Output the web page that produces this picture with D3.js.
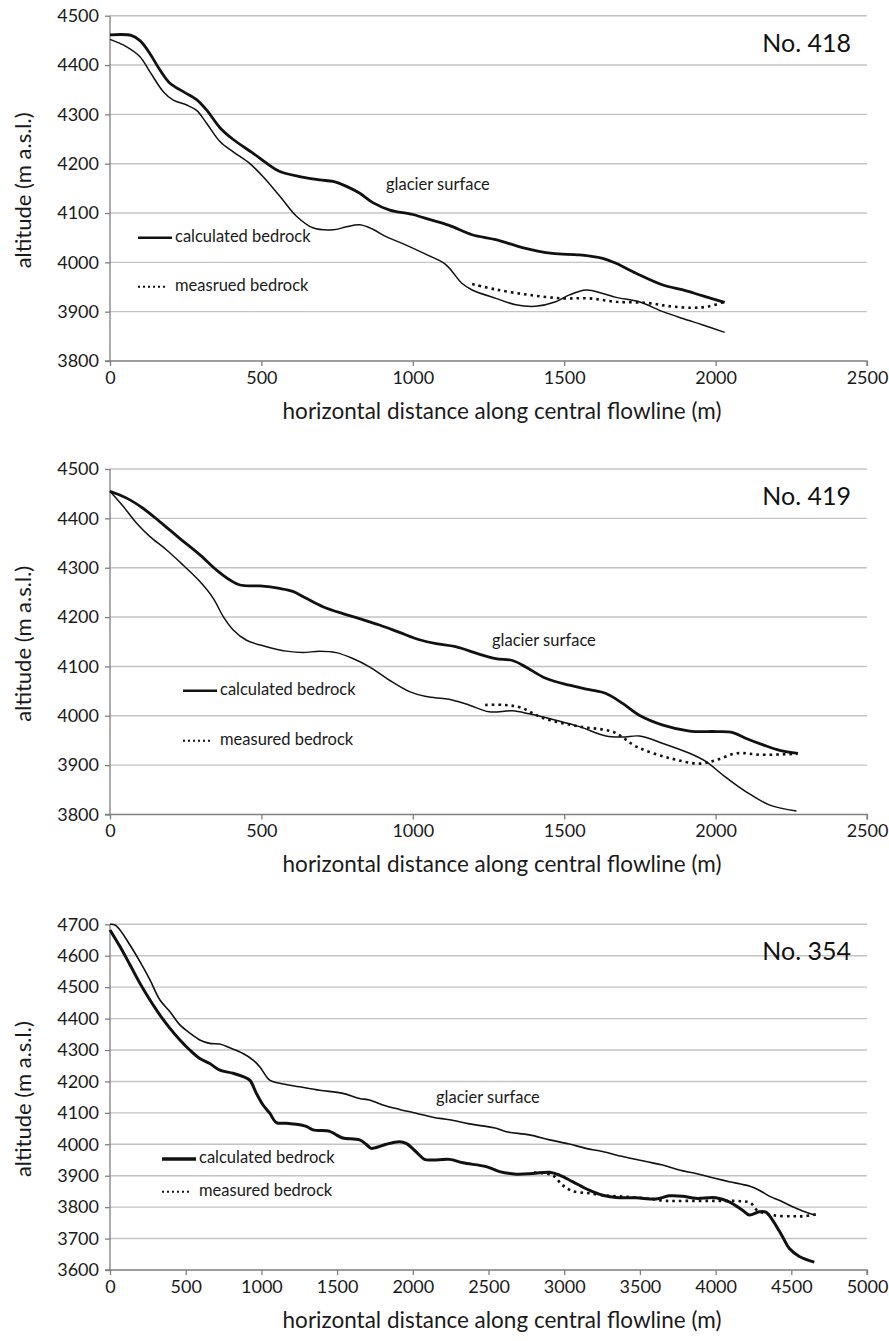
<!DOCTYPE html>
<html>
<head>
<meta charset="utf-8">
<script src="https://cdn.jsdelivr.net/npm/d3@7"></script>
<style>
  body { margin: 0; background: #fff; }
  svg { display: block; font-family: Lato, "Open Sans", sans-serif; }
</style>
</head>
<body>
<svg id="chart" width="889" height="1341"></svg>
<script>
"use strict";

// glacier No. 418 : [distance (m), altitude (m a.s.l.)]
const surface418 = [[0,4461],[70,4460],[100,4449],[132,4423],[165,4390],[198,4363],[242,4346],[286,4330],[320,4308],[363,4273],[407,4249],[473,4221],[517,4201],[561,4184],[626,4174],[692,4167],[737,4164],[781,4154],[825,4140],[868,4121],[924,4106],[1000,4097],[1060,4086],[1120,4075],[1196,4056],[1274,4046],[1362,4030],[1461,4018],[1550,4015],[1627,4008],[1671,3998],[1737,3978],[1826,3954],[1892,3944],[1958,3932],[2030,3919]];
const calcBed418 = [[0,4452],[55,4437],[99,4417],[132,4386],[176,4346],[209,4329],[253,4319],[286,4308],[319,4282],[363,4245],[407,4224],[462,4200],[505,4174],[561,4134],[615,4094],[670,4070],[737,4066],[781,4072],[825,4076],[868,4067],[912,4052],[978,4035],[1044,4016],[1108,3996],[1163,3957],[1196,3944],[1274,3927],[1340,3914],[1406,3911],[1472,3920],[1517,3934],[1572,3944],[1627,3937],[1671,3929],[1748,3920],[1826,3900],[1892,3886],[1958,3873],[2030,3858]];
const measBed418 = [[1196,3956],[1274,3945],[1384,3934],[1494,3927],[1583,3927],[1671,3920],[1770,3918],[1848,3911],[1925,3908],[1980,3911],[2030,3920]];

// glacier No. 419
const surface419 = [[0,4455],[55,4441],[110,4420],[165,4393],[231,4359],[297,4326],[352,4295],[396,4275],[429,4265],[495,4263],[560,4258],[604,4252],[648,4238],[703,4221],[769,4207],[824,4197],[890,4184],[956,4169],[1022,4154],[1077,4146],[1141,4140],[1219,4125],[1274,4116],[1329,4112],[1373,4099],[1439,4076],[1517,4062],[1583,4053],[1638,4045],[1693,4025],[1748,4001],[1826,3981],[1914,3969],[2002,3968],[2057,3966],[2101,3954],[2157,3941],[2212,3930],[2272,3924]];
const calcBed419 = [[0,4455],[44,4424],[88,4390],[132,4363],[187,4336],[242,4305],[297,4272],[341,4238],[374,4201],[407,4174],[451,4153],[517,4140],[582,4131],[637,4128],[692,4131],[747,4128],[802,4116],[857,4099],[923,4072],[989,4049],[1044,4039],[1100,4035],[1130,4032],[1185,4022],[1252,4008],[1329,4010],[1384,4004],[1472,3991],[1550,3978],[1638,3959],[1693,3957],[1748,3959],[1826,3944],[1914,3924],[1969,3907],[2024,3880],[2101,3846],[2179,3819],[2267,3807]];
const measBed419 = [[1239,4022],[1300,4022],[1355,4017],[1432,3995],[1553,3978],[1663,3967],[1740,3937],[1850,3914],[1949,3903],[2000,3910],[2070,3924],[2150,3921],[2270,3923]];

// glacier No. 354
const surface354 = [[0,4700],[33,4698],[66,4682],[132,4634],[198,4581],[264,4523],[330,4459],[396,4422],[462,4380],[527,4354],[593,4332],[659,4321],[725,4319],[791,4307],[879,4289],[945,4268],[989,4247],[1055,4204],[1121,4194],[1253,4183],[1385,4172],[1538,4162],[1648,4146],[1714,4141],[1802,4125],[1912,4111],[2022,4099],[2132,4086],[2242,4078],[2374,4065],[2551,4051],[2617,4040],[2771,4030],[2903,4014],[3033,4001],[3143,3987],[3253,3977],[3386,3961],[3540,3945],[3650,3934],[3760,3918],[3870,3907],[4002,3891],[4090,3881],[4222,3867],[4288,3854],[4354,3835],[4420,3822],[4509,3801],[4575,3788],[4652,3775]];
const calcBed354 = [[0,4682],[66,4629],[132,4571],[198,4512],[264,4459],[330,4411],[396,4369],[462,4332],[527,4300],[593,4273],[659,4257],[725,4236],[813,4226],[879,4215],[923,4204],[967,4162],[1011,4125],[1055,4099],[1099,4069],[1165,4067],[1231,4064],[1297,4057],[1341,4046],[1451,4041],[1495,4030],[1538,4020],[1648,4014],[1692,4000],[1725,3987],[1758,3990],[1824,4000],[1912,4008],[1956,4003],[2022,3976],[2077,3952],[2132,3950],[2242,3952],[2330,3941],[2485,3929],[2573,3913],[2683,3905],[2793,3907],[2903,3911],[2969,3902],[3055,3881],[3165,3854],[3253,3838],[3342,3831],[3474,3830],[3606,3826],[3694,3836],[3782,3835],[3870,3828],[4002,3830],[4090,3817],[4178,3790],[4222,3775],[4288,3785],[4332,3784],[4376,3759],[4442,3706],[4486,3669],[4553,3643],[4652,3625]];
const measBed354 = [[2800,3910],[2922,3902],[2989,3870],[3055,3851],[3166,3844],[3277,3837],[3410,3833],[3543,3828],[3676,3820],[3831,3820],[4008,3820],[4163,3819],[4230,3814],[4274,3790],[4385,3774],[4518,3771],[4584,3771],[4662,3777]];

const xTitle = "horizontal distance along central flowline (m)";
const yTitle = "altitude (m a.s.l.)";

const panels = [
    {name: "No. 418", top: 15.7, bottom: 361, xMax: 2500, yDom: [3800, 4500],
     surface: surface418, calc: calcBed418, meas: measBed418, surfW: 2.8, calcW: 1.5,
     legCalc: "calculated bedrock", legMeas: "measrued bedrock",
     legX: 138, legY1: 237.7, legY2: 286.7, legW: 2.5, glacierX: 386, glacierY: 186},
    {name: "No. 419", top: 469, bottom: 814.5, xMax: 2500, yDom: [3800, 4500],
     surface: surface419, calc: calcBed419, meas: measBed419, surfW: 2.8, calcW: 1.5,
     legCalc: "calculated bedrock", legMeas: "measured bedrock",
     legX: 183, legY1: 690.7, legY2: 740.7, legW: 2.5, glacierX: 492, glacierY: 642},
    {name: "No. 354", top: 924.3, bottom: 1270, xMax: 5000, yDom: [3600, 4700],
     surface: surface354, calc: calcBed354, meas: measBed354, surfW: 1.6, calcW: 3,
     legCalc: "calculated bedrock", legMeas: "measured bedrock",
     legX: 162, legY1: 1159, legY2: 1191.7, legW: 3.5, glacierX: 436, glacierY: 1099}
];

const left = 110, right = 867;
const svg = d3.select("#chart");

function drawPanel(p) {
    const x = d3.scaleLinear().domain([0, p.xMax]).range([left, right]);
    const y = d3.scaleLinear().domain(p.yDom).range([p.bottom, p.top]);
    const g = svg.append("g");
    const yTicks = d3.range(p.yDom[0], p.yDom[1] + 1, 100);
    const xTicks = d3.range(0, p.xMax + 1, 500);

    // gridlines
    g.append("g").selectAll("line")
        .data(yTicks.slice(1))
        .join("line")
        .attr("x1", left).attr("x2", right)
        .attr("y1", d => y(d)).attr("y2", d => y(d))
        .attr("stroke", "#c4c4c4").attr("stroke-width", 1.4);

    // axes
    const yAxis = g.append("g").attr("transform", `translate(${left},0)`)
        .call(d3.axisLeft(y).tickValues(yTicks).tickSize(5).tickPadding(6).tickFormat(d3.format("d")));
    const xAxis = g.append("g").attr("transform", `translate(0,${p.bottom})`)
        .call(d3.axisBottom(x).tickValues(xTicks).tickSize(5).tickPadding(5).tickFormat(d3.format("d")));
    [yAxis, xAxis].forEach(a => {
        a.select(".domain").attr("stroke", "#7f7f7f").attr("stroke-width", 1.3);
        a.selectAll(".tick line").attr("stroke", "#7f7f7f").attr("stroke-width", 1.3);
        a.selectAll(".tick text").attr("fill", "#1a1a1a").style("font-size", "18px")
            .style("font-family", "Lato, sans-serif");
    });
    yAxis.select(".domain").attr("d", `M-5,${p.bottom}H0V${p.top}`);
    xAxis.select(".domain").attr("d", `M${left},0H${right}V5`);

    // titles
    g.append("text")
        .attr("x", 502).attr("y", p.bottom + 52)
        .attr("text-anchor", "middle").attr("dominant-baseline", "middle")
        .style("font-size", "22.5px").attr("fill", "#1a1a1a")
        .text(xTitle);
    g.append("text")
        .attr("transform", `translate(25,${(p.top + p.bottom) / 2 + 2}) rotate(-90)`)
        .attr("text-anchor", "middle").attr("dominant-baseline", "middle")
        .style("font-size", "22px").attr("fill", "#1a1a1a")
        .text(yTitle);
    g.append("text")
        .attr("x", right - 16).attr("y", p.top + 36)
        .attr("text-anchor", "end")
        .style("font-size", "25px").attr("fill", "#111")
        .text(p.name);

    // curves
    const line = d3.line()
        .x(d => x(d[0])).y(d => y(d[1]))
        .curve(d3.curveCatmullRom.alpha(0.5));
    g.append("path").attr("d", line(p.meas))
        .attr("fill", "none").attr("stroke", "#111").attr("stroke-width", 2.6)
        .attr("stroke-dasharray", "2.6,4");
    g.append("path").attr("d", line(p.calc))
        .attr("fill", "none").attr("stroke", "#111").attr("stroke-width", p.calcW)
        .attr("stroke-linejoin", "round");
    g.append("path").attr("d", line(p.surface))
        .attr("fill", "none").attr("stroke", "#111").attr("stroke-width", p.surfW)
        .attr("stroke-linejoin", "round");

    // legend and labels
    g.append("line")
        .attr("x1", p.legX).attr("x2", p.legX + 34)
        .attr("y1", p.legY1).attr("y2", p.legY1)
        .attr("stroke", "#111").attr("stroke-width", p.legW);
    g.append("line")
        .attr("x1", p.legX).attr("x2", p.legX + 28)
        .attr("y1", p.legY2).attr("y2", p.legY2)
        .attr("stroke", "#111").attr("stroke-width", 2)
        .attr("stroke-dasharray", "2,3");
    g.append("text")
        .attr("x", p.legX + 37).attr("y", p.legY1)
        .attr("dominant-baseline", "middle")
        .style("font-size", "16.5px").attr("fill", "#1a1a1a")
        .text(p.legCalc);
    g.append("text")
        .attr("x", p.legX + 37).attr("y", p.legY2)
        .attr("dominant-baseline", "middle")
        .style("font-size", "16.5px").attr("fill", "#1a1a1a")
        .text(p.legMeas);
    g.append("text")
        .attr("x", p.glacierX).attr("y", p.glacierY)
        .attr("dominant-baseline", "middle")
        .style("font-size", "16.5px").attr("fill", "#1a1a1a")
        .text("glacier surface");
}

panels.forEach(drawPanel);
</script>
</body>
</html>
